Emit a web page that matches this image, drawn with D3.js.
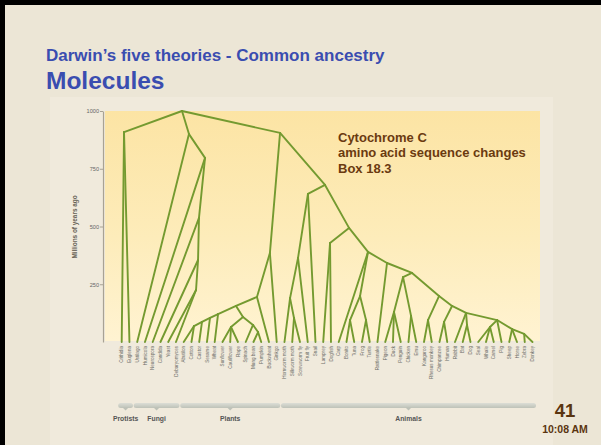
<!DOCTYPE html>
<html><head><meta charset="utf-8">
<script src="https://cdn.jsdelivr.net/npm/d3@7"></script>
<style>html,body{margin:0;padding:0;background:#ECE6D6;overflow:hidden}</style>
</head><body><svg id="c" width="601" height="445"></svg>
<script>
// ---------- DATA ----------
const leafNames = ["Crithidia","Euglena","Ustilago","Humicola","Neurospora","Candida","Yeast","Debaryomyces",
 "Abutilon","Cotton","Castor","Sesame","Wheat","Sunflower","Cauliflower","Rape","Spinach","Mung bean","Pumpkin","Buckwheat","Ginkgo",
 "Hornworm moth","Silkworm moth","Screwworm fly","Fruit fly","Snail","Lamprey","Dogfish","Carp","Bonito","Tuna","Frog","Turtle","Rattlesnake",
 "Pigeon","Duck","Penguin","Chicken","Emu","Kangaroo","Rhesus monkey","Chimpanzee","Human","Rabbit","Bat","Dog","Seal","Whale","Camel","Pig","Sheep","Horse","Zebra","Donkey"];
const leafParent = ["Pr","Pr","F1","F2","F3","F4","F5","F5",
 "Pl4","Pl4","Pl3","Pl2","Pl1","Pd","Pd","Pd","Pe","Pf","Pf","B","Bt",
 "I2","I3","I3","I1","I","E","E","G","Gb","Gb","Gc","Gc","G2",
 "Hc","Hc","Hc","Hd","Hd","Ja","Ja","Jc","Jc","J3","Jd","Jd","Je","Je","Je","J4","J5","J5","J6","J6"];
// internal nodes: id, parent, age (millions of years ago), position in leaf-index units
const nodeId     = ["root","Pr","F1","F2","F3","F4","F5","A","Bt","B","Pl0","Pl1","Pl2","Pl3","Pl4","Pc","Pd","Pe","Pf",
                    "C","I","I1","I2","I3","D","E","G","Ga","Gb","Gc","G2","H","Hb","Hc","Hd","J","Ja","J2","Jc","J3","Jd","J4","Je","J5","J6"];
const nodeParent = [null,"root","root","F1","F2","F3","F4","root","A","Bt","B","Pl0","Pl1","Pl2","Pl3","Pl0","Pc","Pc","Pe",
                    "A","C","I","I1","I2","C","D","D","G","Ga","Ga","G","G2","H","Hb","Hb","H","J","J","J2","J2","J3","J3","J4","J4","J5"];
const nodeAge    = [1000,909,900,797,537,355,225,905,385,195,156,121,104,87,69,108,65,74,43,
                    680,641,364,190,104,494,429,390,199,95,95,342,299,281,130,113,199,95,156,87,126,74,95,65,56,35];
const nodePos    = [7.78,0.30,8.68,10.75,9.97,9.85,9.59,20.43,19.12,17.45,14.75,12.43,11.39,10.36,9.33,15.65,14.1,16.94,17.59,
                    26.23,24.03,22.75,21.72,22.23,29.33,26.88,31.78,30.75,29.46,31.52,34.23,37.46,36.3,35.13,37.33,40.94,39.52,42.62,41.59,44.43,44.55,48.43,47.52,50.37,51.92];
const groupNames = ["Protists","Fungi","Plants","Animals"];
const groupFirst = [0,2,8,21];
const groupLast  = [1,7,20,53];
const yTicks = [250,500,750,1000];
const noteLines = ["Cytochrome C","amino acid sequence changes","Box 18.3"];

// ---------- DRAW ----------
const svg = d3.select("#c");
const font = "'Liberation Sans', Arial, sans-serif";
const x = d3.scaleLinear().domain([0, 53]).range([121.7, 532.5]);
const y = d3.scaleLinear().domain([0, 1000]).range([342, 111]);

// slide frame
svg.append("rect").attr("width",601).attr("height",445).attr("fill","#ECE6D6");
svg.append("rect").attr("x",50).attr("y",97).attr("width",503).attr("height",348).attr("fill","#F0EADC");
svg.append("rect").attr("x",0).attr("y",0).attr("width",601).attr("height",5).attr("fill","#000");
svg.append("rect").attr("x",0).attr("y",0).attr("width",5).attr("height",445).attr("fill","#000");

// titles
svg.append("text").attr("x",46).attr("y",61).attr("font-family",font).attr("font-weight","bold")
  .attr("font-size",17).attr("fill","#3A4DB0").text("Darwin’s five theories - Common ancestry");
svg.append("text").attr("x",46).attr("y",89).attr("font-family",font).attr("font-weight","bold")
  .attr("font-size",24.5).attr("fill","#3A4DB0").text("Molecules");

// plot background gradient
const defs = svg.append("defs");
const g1 = defs.append("linearGradient").attr("id","bg").attr("x1",0).attr("y1",0).attr("x2",0).attr("y2",1);
g1.append("stop").attr("offset","0%").attr("stop-color","#FCE4A4");
g1.append("stop").attr("offset","55%").attr("stop-color","#FDECBA");
g1.append("stop").attr("offset","100%").attr("stop-color","#FFF3D2");
svg.append("rect").attr("x",105).attr("y",y(1000)).attr("width",435).attr("height",y(0)-y(1000)-1).attr("fill","url(#bg)");

// y axis
const ax = svg.append("g").attr("transform","translate(103,0)")
  .call(d3.axisLeft(y).tickValues(yTicks).tickSize(3).tickSizeOuter(0).tickFormat(d3.format("d")));
ax.select(".domain").attr("stroke","#A8A294").attr("stroke-width",1.2);
ax.selectAll(".tick line").attr("stroke","#A8A294");
ax.selectAll(".tick text").attr("font-family",font).attr("font-size",5.6).attr("fill","#666").attr("x",-4);
svg.append("text").attr("transform","translate(77,227) rotate(-90)").attr("text-anchor","middle")
  .attr("font-family",font).attr("font-weight","bold").attr("font-size",6.4).attr("fill","#6a6458")
  .text("Millions of years ago");

// tree
const nodes = new Map();
nodeId.forEach((id,i)=>nodes.set(id,{age:nodeAge[i],pos:nodePos[i],parent:nodeParent[i]}));
const edges = [];
nodeId.forEach((id,i)=>{ if(nodeParent[i]) edges.push([nodes.get(nodeParent[i]), nodes.get(id)]); });
leafParent.forEach((p,i)=>edges.push([nodes.get(p), {age:0,pos:i}]));
svg.append("g").selectAll("line").data(edges).join("line")
  .attr("x1",d=>x(d[0].pos)).attr("y1",d=>y(d[0].age))
  .attr("x2",d=>x(d[1].pos)).attr("y2",d=>y(d[1].age))
  .attr("stroke","#749A30").attr("stroke-width",1.9).attr("stroke-linecap","round");

// annotation
svg.append("text").attr("font-family",font).attr("font-weight","bold").attr("font-size",13).attr("fill","#6B3A10")
  .selectAll("tspan").data(noteLines).join("tspan").attr("x",338).attr("y",(d,i)=>141.5+i*15.5).text(d=>d);

// leaf labels
svg.append("g").selectAll("text").data(leafNames).join("text")
  .attr("transform",(d,i)=>`translate(${x(i)+1.6},346) rotate(-90)`).attr("text-anchor","end")
  .attr("font-family",font).attr("font-size",4.6).attr("fill","#6b6b66").text(d=>d);

// group brackets
const g2 = defs.append("linearGradient").attr("id","bar").attr("x1",0).attr("y1",0).attr("x2",0).attr("y2",1);
g2.append("stop").attr("offset","0%").attr("stop-color","#DCDED6");
g2.append("stop").attr("offset","100%").attr("stop-color","#BEC2B8");
const grp = svg.append("g").selectAll("g").data(groupNames).join("g");
grp.append("rect").attr("x",(d,i)=>x(groupFirst[i])-3.5).attr("y",403)
  .attr("width",(d,i)=>x(groupLast[i])-x(groupFirst[i])+7).attr("height",5).attr("rx",2.5).attr("fill","url(#bar)");
grp.append("path").attr("d",(d,i)=>{const c=(x(groupFirst[i])+x(groupLast[i]))/2;return `M${c-3},407.5L${c},410.5L${c+3},407.5Z`;})
  .attr("fill","#BEC2B8");
grp.append("text").attr("x",(d,i)=>(x(groupFirst[i])+x(groupLast[i]))/2).attr("y",421).attr("text-anchor","middle")
  .attr("font-family",font).attr("font-weight","bold").attr("font-size",6.8).attr("fill","#555").text(d=>d);

// slide number & time
svg.append("text").attr("x",565).attr("y",417).attr("text-anchor","middle").attr("font-family",font)
  .attr("font-weight","bold").attr("font-size",18.5).attr("fill","#5A3510").text("41");
svg.append("text").attr("x",565).attr("y",432.5).attr("text-anchor","middle").attr("font-family",font)
  .attr("font-weight","bold").attr("font-size",10.5).attr("fill","#5A3510").text("10:08 AM");
</script></body></html>
